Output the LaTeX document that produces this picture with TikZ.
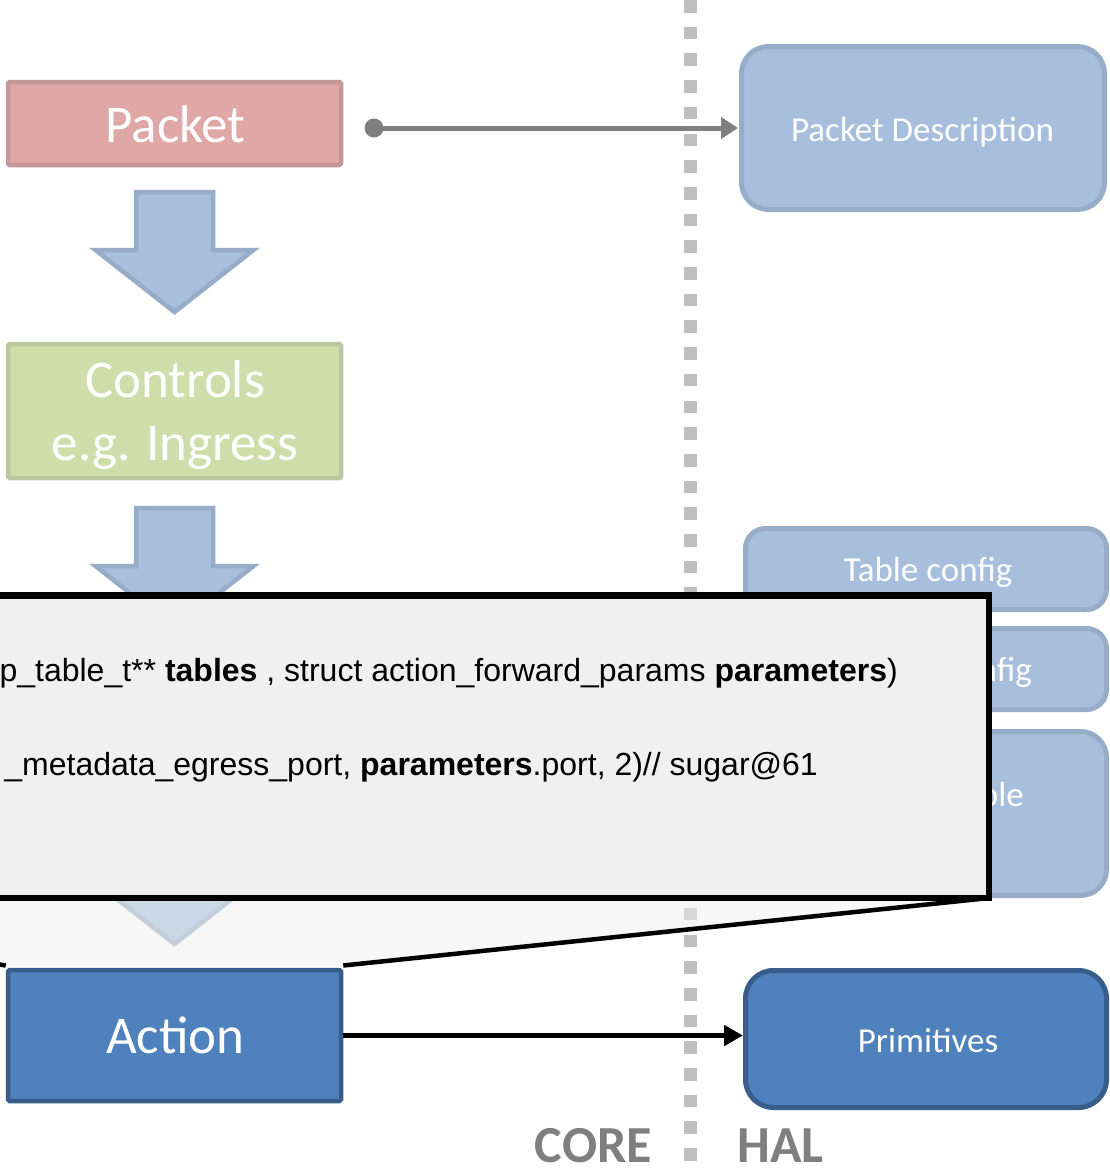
\documentclass[tikz,border=0pt]{standalone}
\usepackage{fontspec}
\setmainfont{Carlito}
\newfontfamily\codefont{Liberation Sans}
\usetikzlibrary{arrows.meta}

\definecolor{pktfill}{HTML}{DFA7A6}
\definecolor{pktline}{HTML}{C49897}
\definecolor{ctlfill}{HTML}{CFDDAB}
\definecolor{ctlline}{HTML}{BAC79F}
\definecolor{lightblue}{HTML}{A7BFDD}
\definecolor{lightblueline}{HTML}{97ACC6}
\definecolor{darkblue}{HTML}{4F81BD}
\definecolor{darkblueline}{HTML}{385D8A}
\definecolor{divider}{HTML}{BFBFBF}
\definecolor{linkgray}{HTML}{7F7F7F}
\definecolor{calloutfill}{HTML}{F0F0F0}

\newcommand{\downblock}[2]{%
  \draw[blockdown] (#1-38.5,#2) -- (#1+38.5,#2) -- (#1+38.5,#2+58) -- (#1+79,#2+58)
    -- (#1,#2+120) -- (#1-79,#2+58) -- (#1-38.5,#2+58) -- cycle;}

\tikzset{
  flatbox/.style={draw, line width=4.5pt, minimum width=333pt, inner sep=0pt,
    rounded corners=1.5pt, text=white, align=center,
    font=\fontsize{53}{64}\selectfont},
  halbox/.style={draw, line width=5pt, rounded corners=24pt, inner sep=0pt,
    minimum width=361pt},
  haltext/.style={text=white, inner sep=0pt, font=\fontsize{35}{42}\selectfont},
  blockdown/.style={fill=lightblue, draw=lightblueline, line width=4.5pt, line join=miter},
  layer/.style={text=linkgray, inner sep=0pt, font=\fontsize{52}{58}\selectfont\bfseries},
  code/.style={inner sep=0pt, anchor=base east, font=\codefont\fontsize{32}{38}\selectfont},
}

\begin{document}
\begin{tikzpicture}[x=1pt,y=-1pt]
\useasboundingbox (0,0) rectangle (1110,1175);
\fill[white] (0,0) rectangle (1110,1175);
\clip (0,0) rectangle (1110,1175);

% CORE | HAL divider
\coordinate (divtop) at (690.5,0);
\coordinate (divbot) at (690.5,1175);
\draw[divider, line width=12.5pt, dash pattern=on 12.6pt off 14.1pt] (divtop) -- (divbot);

% core pipeline
\node[flatbox, fill=pktfill, draw=pktline, minimum height=83pt] (packet) at (174.5,123.5) {};
\node[flatbox, draw=none, anchor=base] (packettxt) at (175.5,142) {Packet};
\downblock{174.5}{192}
\node[flatbox, fill=ctlfill, draw=ctlline, minimum height=134pt] (controls) at (174.5,411) {};
\node[flatbox, draw=none, anchor=base] (ctltxt) at (175,397) {Controls};
\node[flatbox, draw=none, anchor=base] (ctltxtb) at (175,460) {e.g. Ingress};
\downblock{174.5}{508}
\downblock{174.5}{824}
\node[flatbox, fill=darkblue, draw=darkblueline, minimum height=131pt] (action) at (174.5,1035.5) {};
\node[flatbox, draw=none, anchor=base] (actiontxt) at (175.5,1053) {Action};

% HAL components
\node[halbox, fill=lightblue, draw=lightblueline, minimum width=363pt, minimum height=163pt,
  rounded corners=27pt] (pdesc) at (923,128) {};
\node[haltext, anchor=base] (pdesctxt) at (922.5,141) {Packet Description};
\node[halbox, fill=lightblue, draw=lightblueline, minimum height=81pt, rounded corners=20pt]
  (tcfg) at (926,569) {};
\node[haltext, anchor=base] (tcfgtxt) at (928,581) {Table config};
\node[halbox, fill=lightblue, draw=lightblueline, minimum height=81pt, rounded corners=20pt]
  (ccfg) at (926,669) {};
\node[haltext, anchor=base east] (ccfgtxt) at (1032,681) {Counter config};
\node[halbox, fill=lightblue, draw=lightblueline, minimum height=164pt, rounded corners=26pt]
  (ltab) at (926,813.5) {};
\node[haltext, anchor=base east] (ltabtxt) at (1024,806) {Lookup table};
\node[halbox, fill=darkblue, draw=darkblueline, minimum height=137pt, rounded corners=28pt]
  (prim) at (926,1039) {};
\node[haltext, anchor=base] (primtxt) at (928,1052) {Primitives};

% links between the layers
\node[circle, fill=linkgray, minimum size=19pt, inner sep=0pt] (pktdot) at (374,128) {};
\draw[linkgray, line width=5pt, -{Triangle[length=17pt,width=21pt]}, shorten >=1pt]
  (pktdot.center) -- (pktdot.center -| pdesc.west);
\draw[black, line width=5pt, -{Triangle[length=19pt,width=20pt]}]
  (action.east) -- (action.east -| prim.west);

% code callout pointing at the action
\coordinate (cbl) at (-400,898);
\coordinate (cbr) at (989,898);
\coordinate (atl) at ([yshift=2.25pt]action.north west);
\coordinate (atr) at ([yshift=2.25pt]action.north east);
\fill[calloutfill, fill opacity=0.5] (cbl) -- (cbr) -- (atr) -- (atl) -- cycle;
\draw[line width=4.5pt] (cbl) -- (atl);
\draw[line width=4.5pt] (cbr) -- (atr);
\draw[line width=6.5pt, fill=calloutfill] (-400,595.5) rectangle (cbr);
\node[code] (codeA) at (898,681)
  {p\_table\_t** \textbf{tables} , struct action\_forward\_params \textbf{parameters})};
\node[code] (codeB) at (818,775)
  {\_metadata\_egress\_port, \textbf{parameters}.port, 2)// sugar@61};

% layer captions
\node[layer, anchor=base east] (core) at (652,1162) {CORE};
\node[layer, anchor=base west] (hal) at (737,1162) {HAL};
\end{tikzpicture}
\end{document}
